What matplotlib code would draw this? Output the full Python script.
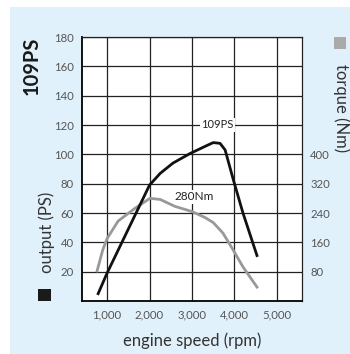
import matplotlib
matplotlib.use('Agg')
from matplotlib import pyplot as plt
from matplotlib.patches import Rectangle

# engine data
rpm_power = [790, 1000, 1500, 2000, 2250, 2550, 2950, 3350, 3500, 3660, 3780,
             3970, 4200, 4530]
power_ps = [5, 19, 49, 79, 87, 94, 100.5, 106, 108, 107.5, 103, 83, 60, 31]

rpm_torque = [765, 900, 1000, 1260, 1660, 2010, 2250, 2600, 3000, 3300, 3500,
              3730, 3970, 4200, 4530]
torque_nm = [82, 140, 170, 218, 253, 280, 277, 258, 244, 228, 214,
             185, 139, 93, 38]

x_ticks = [1000, 2000, 3000, 4000, 5000]
x_labels = ['1,000', '2,000', '3,000', '4,000', '5,000']
left_ticks = [20, 40, 60, 80, 100, 120, 140, 160, 180]
right_ticks = [80, 160, 240, 320, 400]

plt.rcParams['font.family'] = ['Lato', 'DejaVu Sans']

W, H = 350, 354
fig = plt.figure(figsize=(W / 100, H / 100), dpi=100)
fig.patch.set_facecolor('white')
# light blue panel
fig.patches.append(Rectangle((10 / W, 0), 1, 1 - 7 / H, transform=fig.transFigure,
                             facecolor='#e1f1fb', edgecolor='none', zorder=-5))

ax = fig.add_axes([82 / W, (H - 301) / H, 220 / W, 264 / H])
ax.set_facecolor('white')
ax.set_xlim(410, 5590)
ax.set_ylim(0, 180)
ax.set_xticks(x_ticks)
ax.set_xticklabels(x_labels)
ax.set_yticks(left_ticks)
ax.grid(True, color='#222222', lw=0.9)
ax.set_axisbelow(True)
ax.tick_params(length=0, labelsize=8.2, labelcolor='#555555', pad=6)
for s in ['top', 'right']:
    ax.spines[s].set_color('#222222')
    ax.spines[s].set_linewidth(0.9)
for s in ['left', 'bottom']:
    ax.spines[s].set_color('black')
    ax.spines[s].set_linewidth(1.3)

ax.plot(rpm_torque, [t / 4 for t in torque_nm], color='#999999', lw=2, zorder=3)
ax.plot(rpm_power, power_ps, color='#111111', lw=2, zorder=4)

ax.text(3590, 120, '109PS', fontsize=8, ha='center', va='center', color='#222222',
        bbox=dict(facecolor='white', edgecolor='none', pad=1), zorder=5)
ax.text(3050, 71, '280Nm', fontsize=8.5, ha='center', va='center', color='#222222',
        bbox=dict(facecolor='white', edgecolor='none', pad=1), zorder=5)

ax2 = ax.twinx()
ax2.set_ylim(0, 720)
ax2.set_yticks(right_ticks)
ax2.tick_params(length=0, labelsize=8.2, labelcolor='#555555', pad=6)
for s in ax2.spines.values():
    s.set_visible(False)

ax.set_xlabel('engine speed (rpm)', fontsize=12, color='#333333', labelpad=9)

fig.text(47 / W, 1 - 232 / H, 'output (PS)', rotation=90, fontsize=12,
         color='#333333', ha='center', va='center')
fig.patches.append(Rectangle((38 / W, 1 - 301 / H), 13 / W, 12 / H,
                             transform=fig.transFigure, facecolor='#1a1a1a'))
fig.text(32 / W, 1 - 66 / H, '109PS', rotation=90, fontsize=14.5, fontweight='bold',
         color='#1a1a1a', ha='center', va='center')
fig.patches.append(Rectangle((334 / W, 1 - 49 / H), 12 / W, 12 / H,
                             transform=fig.transFigure, facecolor='#aaaaaa'))
fig.text(341 / W, 1 - 108 / H, 'torque (Nm)', rotation=-90, fontsize=12,
         color='#333333', ha='center', va='center')

plt.savefig('out.png', dpi=100)
